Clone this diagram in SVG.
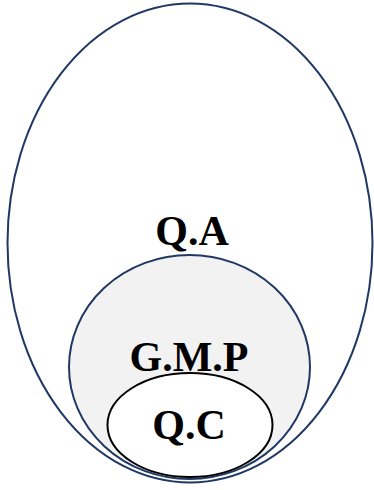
<svg xmlns="http://www.w3.org/2000/svg" width="374" height="490" viewBox="0 0 374 490">
<style>
.lbl{font-family:"Liberation Serif","Times New Roman",serif;font-weight:bold;font-size:42px;fill:#000;text-anchor:middle}
</style>
<rect width="374" height="490" fill="#fff"/>
<g id="qa">
<ellipse cx="190" cy="243" rx="182.5" ry="239.5" fill="#fff" stroke="#1F3864" stroke-width="2"/>
<text class="lbl" x="192" y="245">Q.A</text>
</g>
<g id="gmp">
<ellipse cx="189.5" cy="367" rx="120.5" ry="112" fill="#F2F2F2" stroke="#1F3864" stroke-width="2"/>
<text class="lbl" x="189" y="371">G.M.P</text>
</g>
<g id="qc">
<ellipse cx="190" cy="425" rx="82.5" ry="52" fill="#fff" stroke="#000" stroke-width="2"/>
<text class="lbl" x="189" y="439">Q.C</text>
</g>
<g id="connectors"/>
</svg>
